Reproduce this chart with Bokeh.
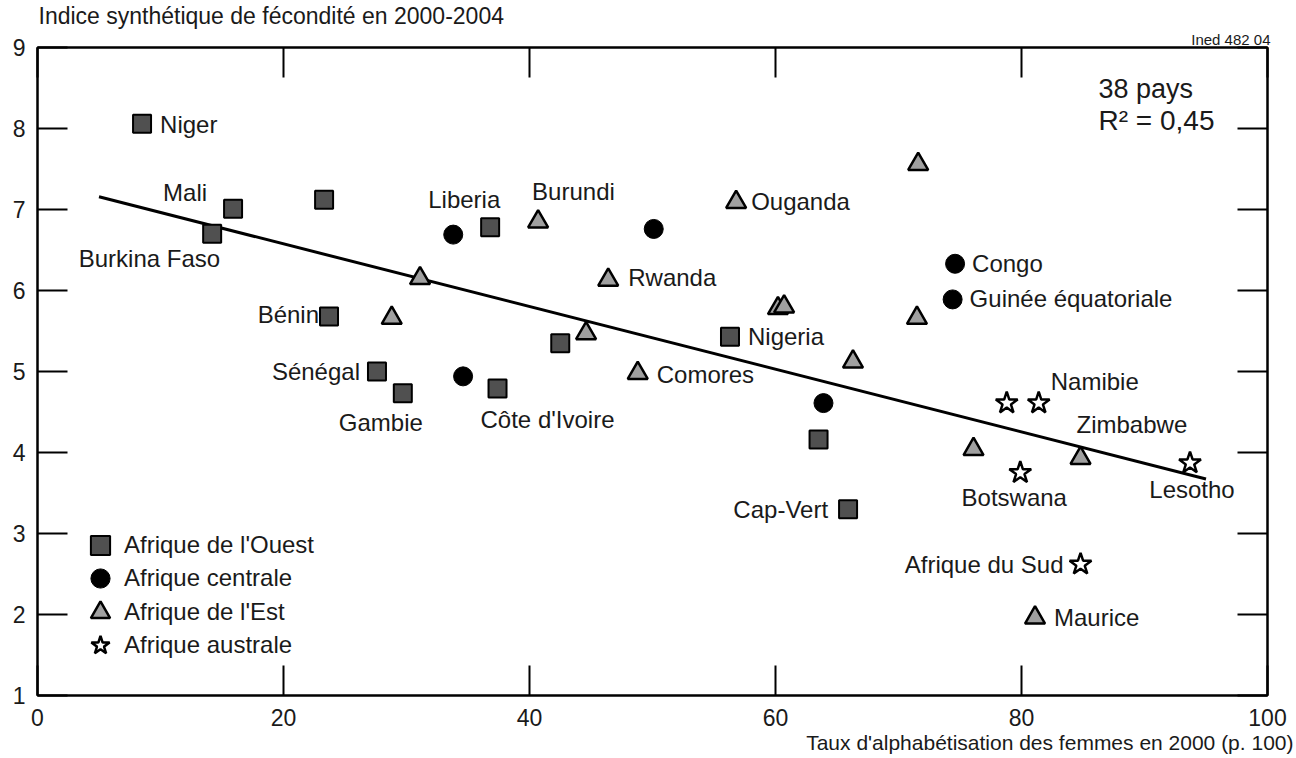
from bokeh.plotting import figure
from bokeh.models import (ColumnDataSource, FixedTicker, LinearAxis, Label,
                          Legend, LegendItem, Range1d, Title)
from bokeh.core.properties import value, field
from bokeh.embed import file_html
from bokeh.resources import INLINE

# ---------------- data ----------------
west_names = ["Niger", "Mali", "Burkina Faso", "", "", "Bénin", "Sénégal", "Gambie",
              "Côte d'Ivoire", "", "Nigeria", "", "Cap-Vert"]
west_x = [8.5, 15.9, 14.2, 23.3, 36.8, 23.7, 27.6, 29.7, 37.4, 42.5, 56.3, 63.5, 65.9]
west_y = [8.06, 7.01, 6.70, 7.12, 6.78, 5.68, 5.00, 4.73, 4.79, 5.35, 5.43, 4.16, 3.30]

central_names = ["Liberia", "", "", "Congo", "Guinée équatoriale", ""]
central_x = [33.8, 34.6, 50.1, 74.6, 74.4, 63.9]
central_y = [6.69, 4.94, 6.76, 6.33, 5.89, 4.61]

east_names = ["Burundi", "", "", "Rwanda", "Ouganda", "", "", "", "", "Comores",
              "", "", "", "Zimbabwe", "Maurice"]
east_x = [40.7, 31.1, 28.8, 46.4, 56.8, 71.6, 60.2, 60.7, 44.6, 48.8,
          66.3, 71.5, 76.1, 84.8, 81.1]
east_y = [6.85, 6.15, 5.66, 6.13, 7.09, 7.56, 5.78, 5.80, 5.47, 4.98,
          5.12, 5.66, 4.04, 3.93, 1.96]

south_names = ["", "Namibie", "Botswana", "Lesotho", "Afrique du Sud"]
south_x = [78.8, 81.4, 79.9, 93.7, 84.8]
south_y = [4.61, 4.61, 3.75, 3.87, 2.62]

fit_intercept = 7.35
fit_slope = -0.0387
fit_x = [5, 95]

x_ticks = [0, 20, 40, 60, 80, 100]
y_ticks = [1, 2, 3, 4, 5, 6, 7, 8, 9]

title_text = "Indice synthétique de fécondité en 2000-2004"
xlabel_text = "Taux d'alphabétisation des femmes en 2000 (p. 100)"
source_text = "Ined 482 04"
stat_lines = ["38 pays", "R² = 0,45"]
legend_labels = ["Afrique de l'Ouest", "Afrique centrale", "Afrique de l'Est", "Afrique australe"]

# ---------------- layout of labels (screen offsets, px) ----------------
label_layout = {
    "Niger": (18, 1, "left"), "Mali": (-26, -16, "right"),
    "Burkina Faso": (8, 25, "right"), "Liberia": (11, -35, "center"),
    "Burundi": (-6, -30, "left"), "Ouganda": (15, -1, "left"),
    "Rwanda": (20, -2, "left"), "Congo": (17, 0, "left"),
    "Guinée équatoriale": (17, -1, "left"), "Bénin": (-10, -2, "right"),
    "Sénégal": (-17, 0, "right"), "Gambie": (-22, 29, "center"),
    "Côte d'Ivoire": (-17, 31, "left"), "Nigeria": (18, 0, "left"),
    "Comores": (19, 1, "left"), "Cap-Vert": (-20, 0, "right"),
    "Namibie": (12, -22, "left"), "Zimbabwe": (-4, -34, "left"),
    "Botswana": (-6, 25, "center"), "Lesotho": (2, 26, "center"),
    "Afrique du Sud": (-17, 0, "right"), "Maurice": (19, 0, "left"),
}

FONT = "Liberation Sans"
TXT = "#1a1a1a"

p = figure(width=1296, height=758, x_range=Range1d(0, 100), y_range=Range1d(1, 9),
           output_backend="svg", toolbar_location=None,
           min_border_left=37, min_border_right=29, min_border_top=45, min_border_bottom=63)
p.grid.visible = False
p.outline_line_color = "black"
p.outline_line_width = 2
p.background_fill_color = "white"
p.border_fill_color = "white"

top_ax = LinearAxis()
right_ax = LinearAxis()
p.add_layout(top_ax, "above")
p.add_layout(right_ax, "right")
bottom_ax = p.below[0]
left_ax = p.left[0]

for ax in (bottom_ax, top_ax):
    ax.ticker = FixedTicker(ticks=x_ticks)
for ax in (left_ax, right_ax):
    ax.ticker = FixedTicker(ticks=y_ticks)
for ax in (bottom_ax, top_ax, left_ax, right_ax):
    ax.major_tick_in = 30
    ax.major_tick_out = 0
    ax.minor_tick_line_color = None
    ax.major_tick_line_width = 2
    ax.major_tick_line_color = "black"
    ax.axis_line_width = 2
    ax.axis_line_color = "black"
    ax.major_label_text_font = FONT
    ax.major_label_text_font_size = "23px"
    ax.major_label_text_color = TXT

top_ax.major_label_overrides = {t: "" for t in x_ticks}
right_ax.major_label_overrides = {t: "" for t in y_ticks}
for ax in (top_ax, right_ax):
    ax.major_label_text_font_size = "0px"
    ax.major_label_standoff = 0
bottom_ax.major_label_standoff = 13
left_ax.major_label_standoff = 12

# titles outside the frame
p.add_layout(Title(text=source_text, align="right", offset=-3, standoff=0,
                   text_font=FONT, text_font_size="15px", text_font_style="normal",
                   text_color=TXT), "above")
p.add_layout(Title(text=title_text, align="left", offset=1, standoff=0,
                   text_font=FONT, text_font_size="23px", text_font_style="normal",
                   text_color=TXT), "above")
p.add_layout(Title(text=xlabel_text, align="right", offset=-26, standoff=0,
                   text_font=FONT, text_font_size="21px", text_font_style="normal",
                   text_color=TXT), "below")

# regression line
fit_y = [fit_intercept + fit_slope * v for v in fit_x]
p.line(fit_x, fit_y, line_color="black", line_width=3)

r_w = p.scatter(west_x, west_y, marker="square", size=18, fill_color="#505050",
                line_color="black", line_width=2)
r_c = p.scatter(central_x, central_y, marker="circle", size=19, fill_color="black",
                line_color="black", line_width=1)
r_e = p.scatter(east_x, east_y, marker="triangle", size=20, fill_color="#a0a0a0",
                line_color="black", line_width=2.5)
r_s = p.scatter(south_x, south_y, marker="star", size=23, fill_color="white",
                line_color="black", line_width=2.5)

# country labels
lx, ly, lt, ldx, ldy, lal = [], [], [], [], [], []
for names, xs, ys in ((west_names, west_x, west_y), (central_names, central_x, central_y),
                      (east_names, east_x, east_y), (south_names, south_x, south_y)):
    for n, xv, yv in zip(names, xs, ys):
        if n:
            dx, dy, al = label_layout[n]
            lx.append(xv); ly.append(yv); lt.append(n)
            ldx.append(dx); ldy.append(dy); lal.append(al)
lab_src = ColumnDataSource(dict(x=lx, y=ly, text=lt, dx=ldx, dy=ldy, align=lal))
p.text(x="x", y="y", text="text", x_offset="dx", y_offset="dy", text_align=field("align"),
       text_baseline="middle", text_font=value(FONT), text_font_size="24px",
       text_color=TXT, source=lab_src)

# legend: one single-item legend per row so rows can sit 33 px apart
renderers = [r_w, r_c, r_e, r_s]
row_bottoms = [124, 91, 57, 24]
for lab, rend, yb in zip(legend_labels, renderers, row_bottoms):
    lg = Legend(items=[LegendItem(label=lab, renderers=[rend])],
                location=(39, yb), orientation="vertical",
                border_line_color=None, background_fill_alpha=0,
                padding=0, margin=0, glyph_height=52, glyph_width=48,
                label_standoff=0, label_height=52,
                label_text_font=FONT, label_text_font_size="24px", label_text_color=TXT)
    p.add_layout(lg, "center")

# annotations inside the frame (screen units relative to frame)
p.add_layout(Label(x=1061, y=607, x_units="screen", y_units="screen", text=stat_lines[0],
                   text_font=FONT, text_font_size="27px", text_color=TXT,
                   text_baseline="middle", text_align="left"))
p.add_layout(Label(x=1061, y=575, x_units="screen", y_units="screen", text=stat_lines[1],
                   text_font=FONT, text_font_size="28px", text_color=TXT,
                   text_baseline="middle", text_align="left"))

open("out.html", "w").write(file_html(p, INLINE))
